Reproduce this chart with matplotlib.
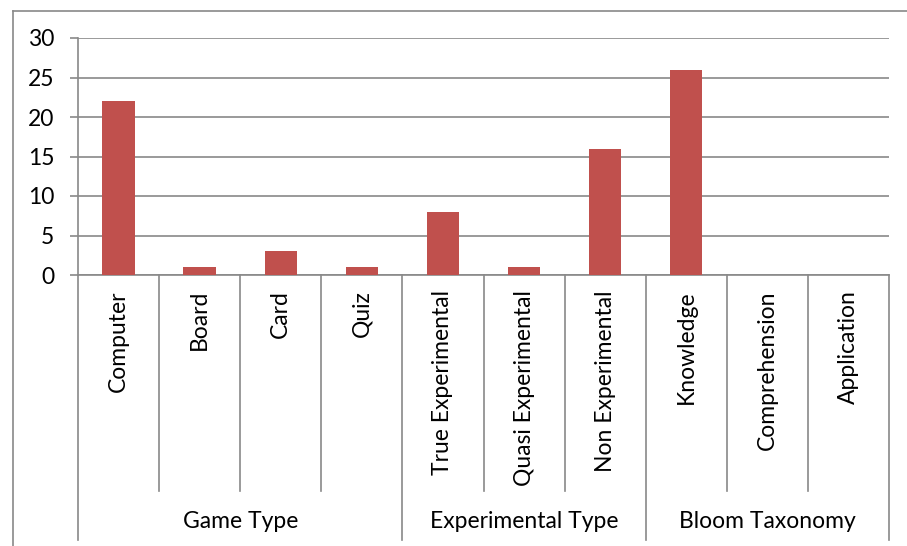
import matplotlib.pyplot as plt
from matplotlib.transforms import blended_transform_factory

# categorias y valores
categories = ['Computer', 'Board', 'Card', 'Quiz',
              'True Experimental', 'Quasi Experimental', 'Non Experimental',
              'Knowledge', 'Comprehension', 'Application']
values = [22, 1, 3, 1, 8, 1, 16, 26, 0, 0]
groups = ['Game Type', 'Experimental Type', 'Bloom Taxonomy']
group_sizes = [4, 3, 3]
yticks = [0, 5, 10, 15, 20, 25, 30]

W, H = 907, 546
bar_color = '#C0504D'
line_color = '#898989'
fs = 16.5
plt.rcParams['font.family'] = ['Lato', 'DejaVu Sans']

fig = plt.figure(figsize=(W / 100, H / 100), dpi=100)

# marco exterior (solo izquierda y arriba visibles)
fig.add_artist(plt.Line2D([13 / W, 13 / W], [0, 1 - 11 / H], transform=fig.transFigure,
                          color=line_color, lw=1.2))
fig.add_artist(plt.Line2D([13 / W, 1], [1 - 11 / H, 1 - 11 / H], transform=fig.transFigure,
                          color=line_color, lw=1.2))

left, right, top, bottom = 78, 889, 38, 275
ax = fig.add_axes([left / W, 1 - bottom / H, (right - left) / W, (bottom - top) / H])

x = list(range(len(categories)))
ax.bar(x, values, width=0.4, color=bar_color, zorder=3)

ax.set_xlim(-0.5, len(categories) - 0.5)
ax.set_ylim(0, 30)
ax.set_yticks(yticks)
ax.tick_params(axis='y', length=6, width=1.2, color=line_color, labelsize=fs, pad=11)
ax.set_xticks([])
ax.grid(axis='y', color=line_color, lw=1.2, zorder=0)
for side in ['top', 'right']:
    ax.spines[side].set_visible(False)
for side in ['left', 'bottom']:
    ax.spines[side].set_color(line_color)
    ax.spines[side].set_linewidth(1.2)

# tabla de categorias debajo del eje
trans = blended_transform_factory(ax.transData, ax.transAxes)
px = 1 / (bottom - top)
inner_end = -(491 - bottom) * px
group_end = -(540 - bottom) * px

boundaries = []
pos = 0
for n in group_sizes:
    boundaries.append(pos)
    pos += n
boundaries.append(pos)

for i in range(len(categories) + 1):
    y_end = group_end if i in boundaries else inner_end
    ax.plot([i - 0.5, i - 0.5], [0, y_end], transform=trans, color=line_color,
            lw=1.2, clip_on=False)

for i, name in enumerate(categories):
    ax.text(i, -(290 - bottom) * px, name, transform=trans, rotation=90,
            ha='center', va='top', fontsize=fs)

for g, name in enumerate(groups):
    center = (boundaries[g] + boundaries[g + 1]) / 2 - 0.5
    ax.text(center, -(522 - bottom) * px, name, transform=trans,
            ha='center', va='center', fontsize=fs)

fig.savefig('out.png', dpi=100)
